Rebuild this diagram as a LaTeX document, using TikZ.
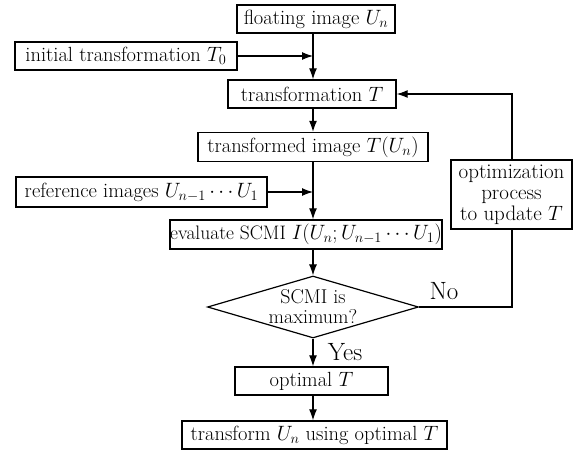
\documentclass[tikz,border=0pt]{standalone}
\usetikzlibrary{shapes.geometric,arrows.meta}
\begin{document}
\begin{tikzpicture}[x=1pt,y=-1pt,
  every node/.style={font=\fontsize{20.5}{22}\selectfont, inner sep=0pt},
  box/.style={draw, line width=1.4pt, minimum height=28pt},
  dia/.style={draw, diamond, line width=1.2pt, align=center, shape aspect=3.4,
    inner xsep=-8pt, inner ysep=-4pt, font=\fontsize{20}{20}\selectfont},
  conn/.style={line width=1.1pt},
  arr/.style={conn, -{Latex[length=11pt,width=8pt]}}]
\useasboundingbox (0,0) rectangle (576,451);
\node[box, minimum width=158pt] (float) at (316,19) {floating image $U_n$};
\node[box, minimum width=222pt] (init) at (126,56) {initial transformation $T_0$};
\node[box, minimum width=168pt] (trans) at (312,94) {transformation $T$};
\node[box, minimum width=230pt, minimum height=29pt] (transd) at (313,147) {transformed image $T(U_n)$};
\node[box, minimum width=251pt, minimum height=30pt] (ref) at (141.5,192) {reference images $U_{n-1}\cdots U_1$};
\node[box, minimum width=272pt, minimum height=29pt, font=\fontsize{19.5}{21}\selectfont] (eval) at (306,234.5) {evaluate SCMI $I(U_n;U_{n-1}\cdots U_1)$};
\node[box, minimum width=121pt, minimum height=69pt, align=center, font=\fontsize{21}{21}\selectfont] (opt) at (511.5,194.5) {optimization\\process\\to update $T$};
\node[dia, minimum width=211pt, minimum height=62pt] (dec) at (313,307) {SCMI is\\maximum?};
\node[box, minimum width=153pt] (optimal) at (311.5,381) {optimal $T$};
\node[box, minimum width=265pt] (final) at (314.5,435) {transform $U_n$ using optimal $T$};
\coordinate (ax) at (313,0);
\coordinate (fb) at (512,0);
\node[font=\fontsize{25}{25}\selectfont] (no) at (444,291) {No};
\node[font=\fontsize{25}{25}\selectfont] (yes) at (345,352) {Yes};
\draw[arr] (float.south -| ax) -- (trans.north -| ax);
\draw[arr] (init.east) -- (init.east -| ax);
\draw[arr] (trans.south -| ax) -- (transd.north -| ax);
\draw[arr] (transd.south -| ax) -- (eval.north -| ax);
\draw[arr] (ref.east) -- (ref.east -| ax);
\draw[arr] (eval.south -| ax) -- (dec.north);
\draw[arr] (dec.south) -- (optimal.north -| ax);
\draw[arr] (optimal.south -| ax) -- (final.north -| ax);
\draw[conn] (dec.east) -- (dec.east -| fb) -- (opt.south -| fb);
\draw[arr] (opt.north -| fb) -- (trans.east -| fb) -- (trans.east);
\end{tikzpicture}
\end{document}
